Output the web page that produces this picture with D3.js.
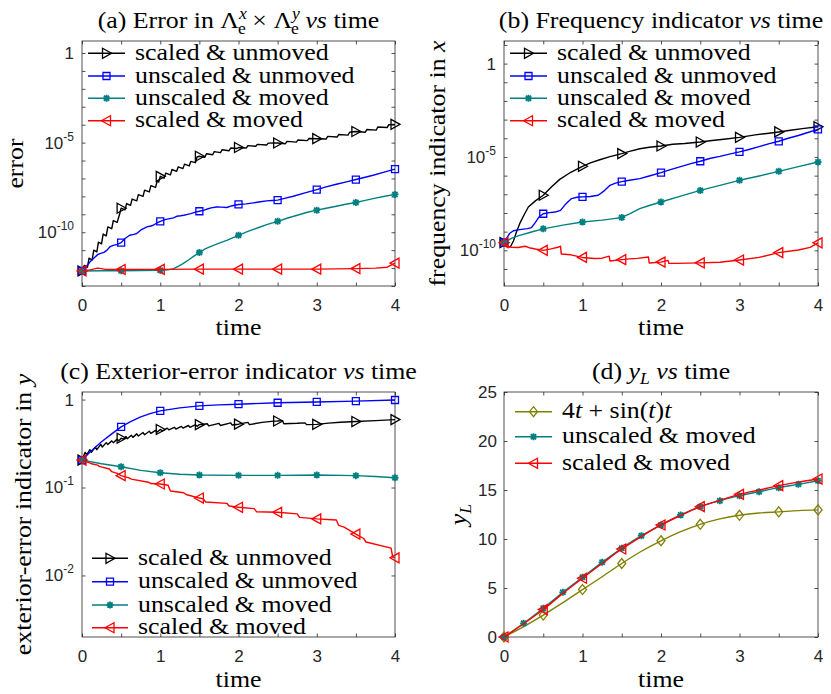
<!DOCTYPE html>
<html><head><meta charset="utf-8">
<script src="https://cdn.jsdelivr.net/npm/d3@7"></script>
<style>body{margin:0;background:#fff}</style>
</head><body>
<script>
// ---------------- DATA ----------------
const timeTicks = [0,0.5,1,1.5,2,2.5,3,3.5,4];
const timeLabels = [0,1,2,3,4];

// Panel (a): error, values stored as log10 exponents
const aSUt = [0,0.03,0.07,0.09,0.13,0.15,0.19,0.21,0.25,0.27,0.31,0.33,0.38,0.40,0.45,0.48,0.5,0.55,0.57,0.62,0.64,0.7,0.72,0.78,0.8,0.86,0.88,0.94,0.96,0.98,1.0,1.05,1.07,1.13,1.15,1.21,1.23,1.29,1.31,1.37,1.39,1.45,1.47,1.5,1.57,1.59,1.67,1.69,1.77,1.79,1.88,1.9,1.98,2.0,2.1,2.12,2.22,2.24,2.36,2.38,2.5,2.6,2.62,2.74,2.76,2.88,2.9,3.0,3.12,3.14,3.26,3.28,3.4,3.42,3.5,3.62,3.64,3.76,3.78,3.9,3.92,4.0];
const aSUexp = [-12.16,-11.85,-11.95,-11.45,-11.55,-11.0,-11.1,-10.55,-10.65,-10.1,-10.2,-9.7,-9.8,-9.35,-9.45,-9.0,-8.66,-8.75,-8.4,-8.5,-8.15,-8.25,-7.9,-8.0,-7.65,-7.75,-7.4,-7.5,-7.15,-7.2,-6.88,-6.98,-6.7,-6.8,-6.5,-6.6,-6.35,-6.45,-6.2,-6.3,-6.05,-6.12,-5.8,-5.76,-5.82,-5.62,-5.68,-5.5,-5.56,-5.4,-5.45,-5.3,-5.33,-5.27,-5.3,-5.17,-5.2,-5.1,-5.13,-5.03,-5.02,-5.06,-4.93,-4.97,-4.85,-4.89,-4.77,-4.78,-4.8,-4.65,-4.69,-4.55,-4.58,-4.42,-4.38,-4.42,-4.27,-4.3,-4.13,-4.16,-4.0,-3.98];
const aUUt = [0,0.05,0.1,0.15,0.2,0.23,0.28,0.32,0.36,0.4,0.45,0.5,0.55,0.61,0.66,0.7,0.76,0.83,0.88,0.91,0.96,1.0,1.06,1.12,1.17,1.21,1.26,1.3,1.35,1.39,1.45,1.5,1.55,1.59,1.65,1.72,1.78,1.85,1.92,2.0,2.1,2.19,2.28,2.36,2.43,2.5,2.6,2.7,2.85,3.0,3.12,3.25,3.38,3.5,3.62,3.72,3.85,4.0];
const aUUexp = [-12.16,-11.95,-11.66,-11.45,-11.25,-11.19,-11.12,-11.0,-10.8,-10.73,-10.68,-10.58,-10.35,-10.17,-10.12,-10.07,-9.85,-9.7,-9.65,-9.61,-9.48,-9.39,-9.3,-9.24,-9.2,-9.11,-9.08,-9.05,-9.0,-8.96,-8.88,-8.83,-8.78,-8.72,-8.64,-8.59,-8.6,-8.62,-8.52,-8.45,-8.42,-8.36,-8.3,-8.25,-8.23,-8.21,-8.1,-7.99,-7.8,-7.62,-7.47,-7.32,-7.19,-7.06,-6.93,-6.82,-6.66,-6.48];
const aUMt = [0,0.25,0.5,0.75,1.0,1.1,1.17,1.23,1.29,1.36,1.43,1.5,1.58,1.68,1.77,1.85,2.0,2.12,2.25,2.37,2.5,2.62,2.75,2.87,3.0,3.12,3.25,3.37,3.5,3.62,3.75,3.87,4.0];
const aUMexp = [-12.16,-12.15,-12.15,-12.14,-12.12,-12.1,-12.03,-11.9,-11.75,-11.55,-11.33,-11.13,-10.92,-10.73,-10.58,-10.45,-10.17,-9.95,-9.75,-9.56,-9.39,-9.22,-9.05,-8.9,-8.77,-8.66,-8.55,-8.44,-8.34,-8.22,-8.1,-7.99,-7.89];
const aSMt = [0,0.1,0.2,0.25,0.3,0.5,0.75,1.0,1.5,2.0,2.5,3.0,3.5,3.75,3.9,4.0];
const aSMexp = [-12.16,-12.1,-12.0,-12.03,-12.07,-12.08,-12.07,-12.07,-12.06,-12.06,-12.06,-12.06,-12.03,-12.0,-11.95,-11.72];

// Panel (b): frequency indicator in x, log10 exponents
const bSUt = [0,0.05,0.08,0.12,0.16,0.2,0.25,0.31,0.4,0.5,0.6,0.71,0.85,1.0,1.1,1.22,1.35,1.5,1.6,1.73,1.85,2.0,2.15,2.3,2.5,2.65,2.8,3.0,3.2,3.35,3.5,3.65,3.8,4.0];
const bSUexp = [-9.59,-9.8,-9.82,-9.5,-9.0,-8.57,-8.15,-7.68,-7.35,-7.05,-6.62,-6.2,-5.82,-5.5,-5.32,-5.15,-4.98,-4.82,-4.7,-4.56,-4.48,-4.41,-4.32,-4.28,-4.2,-4.12,-4.05,-3.95,-3.82,-3.74,-3.66,-3.57,-3.48,-3.38];
const bUUt = [0,0.07,0.12,0.2,0.3,0.35,0.4,0.45,0.5,0.58,0.65,0.72,0.78,0.86,0.93,1.0,1.1,1.2,1.28,1.35,1.42,1.5,1.6,1.73,1.85,2.0,2.12,2.25,2.38,2.5,2.62,2.75,2.87,3.0,3.12,3.25,3.37,3.5,3.62,3.75,3.87,4.0];
const bUUexp = [-9.59,-9.1,-8.95,-8.89,-8.84,-8.78,-8.5,-8.2,-8.04,-7.98,-7.95,-7.86,-7.55,-7.23,-7.16,-7.14,-7.12,-7.05,-6.8,-6.52,-6.4,-6.32,-6.25,-6.16,-6.02,-5.84,-5.68,-5.52,-5.36,-5.23,-5.08,-4.97,-4.85,-4.73,-4.6,-4.45,-4.3,-4.16,-4.0,-3.85,-3.69,-3.52];
const bUMt = [0,0.1,0.2,0.35,0.5,0.75,1.0,1.25,1.4,1.5,1.6,1.73,1.85,2.0,2.25,2.5,2.75,3.0,3.25,3.5,3.75,4.0];
const bUMexp = [-9.59,-9.35,-9.2,-9.02,-8.85,-8.65,-8.48,-8.38,-8.3,-8.24,-8.05,-7.77,-7.6,-7.41,-7.1,-6.79,-6.52,-6.25,-6.02,-5.77,-5.52,-5.27];
const bSMt = [0,0.05,0.1,0.18,0.27,0.32,0.4,0.5,0.6,0.7,0.72,0.73,0.85,1.0,1.15,1.25,1.34,1.35,1.5,1.6,1.7,1.84,1.85,2.0,2.09,2.1,2.2,2.5,2.75,3.0,3.25,3.5,3.75,3.9,4.0];
const bSMexp = [-9.59,-9.78,-9.84,-9.85,-9.78,-9.86,-9.93,-10.0,-9.92,-9.82,-9.78,-10.2,-10.24,-10.38,-10.44,-10.42,-10.31,-10.57,-10.5,-10.46,-10.43,-10.36,-10.68,-10.63,-10.54,-10.7,-10.7,-10.67,-10.64,-10.52,-10.38,-10.12,-9.98,-9.84,-9.6];

// Panel (c): exterior-error indicator in y, log10 exponents
const cSUt = [0,0.04,0.06,0.1,0.12,0.17,0.19,0.24,0.26,0.31,0.33,0.38,0.4,0.45,0.47,0.5,0.53,0.56,0.58,0.63,0.65,0.7,0.72,0.78,0.8,0.86,0.88,0.94,0.96,1.0,1.03,1.09,1.11,1.18,1.2,1.27,1.29,1.36,1.38,1.45,1.47,1.5,1.6,1.62,1.75,1.77,1.9,1.92,2.0,2.12,2.14,2.3,2.45,2.5,2.56,2.58,2.75,2.85,2.87,3.0,3.15,3.3,3.5,3.75,4.0];
const cSUexp = [-0.688,-0.6,-0.63,-0.57,-0.6,-0.54,-0.57,-0.51,-0.54,-0.49,-0.51,-0.47,-0.49,-0.45,-0.47,-0.44,-0.45,-0.42,-0.445,-0.405,-0.43,-0.39,-0.415,-0.375,-0.4,-0.36,-0.385,-0.35,-0.37,-0.34,-0.355,-0.325,-0.345,-0.315,-0.335,-0.305,-0.325,-0.295,-0.315,-0.285,-0.305,-0.285,-0.275,-0.3,-0.27,-0.295,-0.265,-0.29,-0.28,-0.26,-0.285,-0.26,-0.245,-0.244,-0.24,-0.275,-0.27,-0.265,-0.285,-0.282,-0.268,-0.258,-0.25,-0.24,-0.228];
const cUUt = [0,0.1,0.25,0.38,0.5,0.62,0.75,0.87,1.0,1.25,1.5,1.75,2.0,2.5,3.0,3.5,4.0];
const cUUexp = [-0.688,-0.6,-0.48,-0.39,-0.31,-0.25,-0.197,-0.16,-0.129,-0.095,-0.072,-0.06,-0.053,-0.036,-0.027,-0.018,-0.005];
const cUMt = [0,0.25,0.5,0.75,1.0,1.25,1.5,2.0,2.5,3.0,3.5,3.75,4.0];
const cUMexp = [-0.688,-0.73,-0.764,-0.805,-0.832,-0.85,-0.858,-0.862,-0.862,-0.858,-0.865,-0.875,-0.889];
const cSMt = [0,0.1,0.12,0.2,0.22,0.35,0.38,0.45,0.5,0.6,0.63,0.85,0.88,1.0,1.1,1.13,1.3,1.33,1.5,1.55,1.58,1.85,1.88,2.0,2.2,2.23,2.5,2.75,2.78,3.0,3.25,3.28,3.35,3.5,3.6,3.63,3.95,3.97,4.0];
const cSMexp = [-0.688,-0.72,-0.73,-0.745,-0.76,-0.79,-0.82,-0.84,-0.865,-0.89,-0.905,-0.94,-0.955,-0.96,-0.975,-1.04,-1.06,-1.08,-1.12,-1.13,-1.165,-1.18,-1.21,-1.225,-1.24,-1.275,-1.282,-1.3,-1.34,-1.357,-1.37,-1.43,-1.45,-1.53,-1.58,-1.62,-1.69,-1.79,-1.8];

// Panel (d): y_L
const dTime = [0,0.25,0.5,0.75,1,1.25,1.5,1.75,2,2.25,2.5,2.75,3,3.25,3.5,3.75,4];
const dRef = [0,1.06,2.24,3.5,4.84,6.15,7.5,8.75,9.82,10.75,11.5,12.05,12.42,12.65,12.77,12.9,12.97];
const dUM = [0,1.4,2.93,4.56,6.09,7.62,9.05,10.34,11.43,12.45,13.3,13.91,14.42,14.83,15.24,15.58,15.95];
const dSM = [0,1.35,2.8,4.45,6.0,7.5,8.98,10.25,11.43,12.4,13.3,13.95,14.56,15.0,15.44,15.8,16.12];
const dYTicks = [0,5,10,15,20,25];

// ---------------- DRAWING ----------------
const W = 831, H = 694;
const serif = 'Liberation Serif';
const sans = 'Liberation Sans';
const FS = 23.5, SX = 1.1;
const axisCol = '#262626';
const COL = {black:'#000000', blue:'#0000ff', teal:'#008080', red:'#ff0000', olive:'#808000'};
const svg = d3.select('body').append('svg').attr('width', W).attr('height', H);
svg.append('rect').attr('width', W).attr('height', H).attr('fill', '#fff');

function addRich(textSel, parts) {
  parts.forEach(p => {
    const ts = textSel.append('tspan').text(p.t);
    if (p.i) ts.attr('font-style', 'italic');
    if (p.fs) ts.attr('font-size', p.fs);
    if (p.dy) ts.attr('dy', p.dy);
    if (p.dx) ts.attr('dx', p.dx);
  });
  return textSel;
}

function marker(g, type, color, x, y) {
  let p;
  if (type === 'tr') p = 'M-4,-5L5,0L-4,5Z';
  else if (type === 'tl') p = 'M4,-5L-5,0L4,5Z';
  else if (type === 'sq') p = 'M-3.5,-3.5H3.5V3.5H-3.5Z';
  else if (type === 'di') p = 'M0,-5L4,0L0,5L-4,0Z';
  else if (type === 'st') p = 'M-3.5,0H3.5M0,-3.5V3.5M-2.6,-2.6L2.6,2.6M-2.6,2.6L2.6,-2.6';
  g.append('path').attr('d', p).attr('transform', `translate(${x},${y})`)
    .attr('fill', 'none').attr('stroke', color)
    .attr('stroke-width', type === 'st' ? 1.8 : 1.3);
}

// serif (LaTeX-like) text, widened horizontally to the reference's proportions
function serifText(g, x, y, rot) {
  return g.append('text').attr('font-family', serif).attr('font-size', FS).attr('fill', '#000')
    .attr('transform', `translate(${x},${y})${rot ? ' rotate(-90)' : ''} scale(${SX},1)`);
}

function panel(cfg) {
  const g = svg.append('g');
  const x = d3.scaleLinear().domain([0, 4]).range([cfg.left, cfg.right]);
  const y = cfg.log
    ? d3.scaleLog().domain(cfg.ydom).range([cfg.bottom, cfg.top])
    : d3.scaleLinear().domain(cfg.ydom).range([cfg.bottom, cfg.top]);

  const styleAxis = a => {
    a.select('.domain').remove();
    a.selectAll('line').attr('stroke', axisCol).attr('stroke-width', 0.8);
    a.selectAll('text').attr('fill', axisCol).attr('font-family', sans).attr('font-size', 17);
  };
  g.append('g').attr('transform', `translate(0,${cfg.bottom})`)
    .call(d3.axisBottom(x).tickValues(timeTicks).tickSize(-3.5).tickPadding(12.5)
      .tickFormat(d => timeLabels.includes(d) ? d : '')).call(styleAxis);
  g.append('g').attr('transform', `translate(0,${cfg.top})`)
    .call(d3.axisTop(x).tickValues(timeTicks).tickSize(-3.5).tickFormat('')).call(styleAxis);
  const yl = d3.axisLeft(y).tickValues(cfg.yticks).tickSize(-3.5);
  if (cfg.log) yl.tickFormat(''); else yl.tickPadding(7).tickFormat(d => d);
  g.append('g').attr('transform', `translate(${cfg.left},0)`).call(yl).call(styleAxis);
  g.append('g').attr('transform', `translate(${cfg.right},0)`)
    .call(d3.axisRight(y).tickValues(cfg.yticks).tickSize(-3.5).tickFormat('')).call(styleAxis);

  if (cfg.log) {
    cfg.ylabels.forEach(v => {
      const e = Math.round(Math.log10(v));
      const t = g.append('text').attr('x', cfg.left - 8).attr('y', y(v)).attr('dy', '0.35em')
        .attr('text-anchor', 'end').attr('fill', axisCol).attr('font-family', sans).attr('font-size', 17);
      if (e === 0) t.text('1');
      else addRich(t, [{t: '10'}, {t: String(e), fs: 12, dy: -8}]);
    });
  }

  g.append('rect').attr('x', cfg.left).attr('y', cfg.top)
    .attr('width', cfg.right - cfg.left).attr('height', cfg.bottom - cfg.top)
    .attr('fill', 'none').attr('stroke', axisCol).attr('stroke-width', 0.8);

  const line = d3.line().x(d => x(d[0])).y(d => y(d[1]));
  if (cfg.curve) line.curve(d3.curveMonotoneX);
  cfg.series.forEach(s => {
    const pts = s.t.map((t, i) => [t, s.v[i]]);
    g.append('path').datum(pts).attr('d', line).attr('fill', 'none')
      .attr('stroke', s.color).attr('stroke-width', 1.4).attr('stroke-linejoin', 'round');
    pts.filter(p => Math.abs(p[0] / s.mstep - Math.round(p[0] / s.mstep)) < 1e-9)
      .forEach(p => marker(g, s.marker, s.color, x(p[0]), y(p[1])));
  });

  cfg.series.slice().sort((a, b) => a.lorder - b.lorder).forEach((s, i) => {
    const ly = cfg.legY[i];
    g.append('line').attr('x1', cfg.legX0).attr('x2', cfg.legX1).attr('y1', ly).attr('y2', ly)
      .attr('stroke', s.color).attr('stroke-width', 1.4);
    marker(g, s.marker, s.color, (cfg.legX0 + cfg.legX1) / 2, ly);
    addRich(serifText(g, cfg.legX1 + 10, ly + 6.7), s.label);
  });

  addRich(serifText(g, (cfg.left + cfg.right) / 2, cfg.titleY).attr('text-anchor', 'middle'), cfg.title);
  serifText(g, (cfg.left + cfg.right) / 2, cfg.xlabY).attr('text-anchor', 'middle').text('time');
  addRich(serifText(g, cfg.ylabX, (cfg.top + cfg.bottom) / 2, true).attr('text-anchor', 'middle'), cfg.ylab);
}

const lSU = [{t: 'scaled & unmoved'}];
const lUU = [{t: 'unscaled & unmoved'}];
const lUM = [{t: 'unscaled & moved'}];
const lSM = [{t: 'scaled & moved'}];
const toVal = arr => arr.map(e => Math.pow(10, e));

panel({
  left: 82, right: 395, top: 41, bottom: 286, log: true,
  ydom: [1e-13, Math.pow(10, 0.67)],
  yticks: d3.range(-13, 1).map(e => Math.pow(10, e)), ylabels: [1, 1e-5, 1e-10],
  series: [
    {t: aSUt, v: toVal(aSUexp), color: COL.black, marker: 'tr', mstep: 0.5, label: lSU, lorder: 0},
    {t: aUUt, v: toVal(aUUexp), color: COL.blue, marker: 'sq', mstep: 0.5, label: lUU, lorder: 1},
    {t: aUMt, v: toVal(aUMexp), color: COL.teal, marker: 'st', mstep: 0.5, label: lUM, lorder: 2},
    {t: aSMt, v: toVal(aSMexp), color: COL.red, marker: 'tl', mstep: 0.5, label: lSM, lorder: 3}
  ],
  legX0: 88, legX1: 125, legY: [53.3, 76, 98.3, 120.7],
  titleY: 28.3, xlabY: 335, ylabX: 23,
  title: [{t: '(a) Error in Λ'}, {t: 'x', i: 1, fs: 16, dy: -9}, {t: 'e', fs: 16, dx: -8, dy: 15},
          {t: ' × Λ', dy: -6}, {t: 'y', i: 1, fs: 16, dy: -9}, {t: 'e', fs: 16, dx: -8, dy: 15},
          {t: ' ', dy: -6}, {t: 'vs', i: 1}, {t: ' time'}],
  ylab: [{t: 'error'}]
});

panel({
  left: 504, right: 818, top: 41, bottom: 286, log: true,
  ydom: [Math.pow(10, -11.91), Math.pow(10, 1.21)],
  yticks: d3.range(-11, 2).map(e => Math.pow(10, e)), ylabels: [1, 1e-5, 1e-10],
  series: [
    {t: bSUt, v: toVal(bSUexp), color: COL.black, marker: 'tr', mstep: 0.5, label: lSU, lorder: 0},
    {t: bUUt, v: toVal(bUUexp), color: COL.blue, marker: 'sq', mstep: 0.5, label: lUU, lorder: 1},
    {t: bUMt, v: toVal(bUMexp), color: COL.teal, marker: 'st', mstep: 0.5, label: lUM, lorder: 2},
    {t: bSMt, v: toVal(bSMexp), color: COL.red, marker: 'tl', mstep: 0.5, label: lSM, lorder: 3}
  ],
  legX0: 510, legX1: 547, legY: [53.3, 76, 98.3, 120.7],
  titleY: 28.3, xlabY: 335, ylabX: 445,
  title: [{t: '(b) Frequency indicator '}, {t: 'vs', i: 1}, {t: ' time'}],
  ylab: [{t: 'frequency indicator in '}, {t: 'x', i: 1}]
});

panel({
  left: 82, right: 395, top: 392, bottom: 637, log: true,
  ydom: [Math.pow(10, -2.7), Math.pow(10, 0.086)],
  yticks: [1e-2, 1e-1, 1], ylabels: [1, 1e-1, 1e-2],
  series: [
    {t: cSUt, v: toVal(cSUexp), color: COL.black, marker: 'tr', mstep: 0.5, label: lSU, lorder: 0},
    {t: cUUt, v: toVal(cUUexp), color: COL.blue, marker: 'sq', mstep: 0.5, label: lUU, lorder: 1},
    {t: cUMt, v: toVal(cUMexp), color: COL.teal, marker: 'st', mstep: 0.5, label: lUM, lorder: 2},
    {t: cSMt, v: toVal(cSMexp), color: COL.red, marker: 'tl', mstep: 0.5, label: lSM, lorder: 3}
  ],
  legX0: 92, legX1: 128, legY: [558.3, 581.7, 605, 627.7],
  titleY: 379, xlabY: 687, ylabX: 31,
  title: [{t: '(c) Exterior-error indicator '}, {t: 'vs', i: 1}, {t: ' time'}],
  ylab: [{t: 'exterior-error indicator in '}, {t: 'y', i: 1}]
});

panel({
  left: 504, right: 818, top: 392, bottom: 637, log: false, curve: true,
  ydom: [0, 25], yticks: dYTicks,
  series: [
    {t: dTime, v: dRef, color: COL.olive, marker: 'di', mstep: 0.5,
     label: [{t: '4'}, {t: 't', i: 1}, {t: ' + sin('}, {t: 't', i: 1}, {t: ')'}, {t: 't', i: 1}], lorder: 0},
    {t: dTime, v: dUM, color: COL.teal, marker: 'st', mstep: 0.25, label: lUM, lorder: 1},
    {t: dTime, v: dSM, color: COL.red, marker: 'tl', mstep: 0.5, label: lSM, lorder: 2}
  ],
  legX0: 515, legX1: 552, legY: [411.7, 436.7, 463.3],
  titleY: 379, xlabY: 687, ylabX: 466,
  title: [{t: '(d) '}, {t: 'y', i: 1}, {t: 'L', i: 1, fs: 16, dy: 5}, {t: ' ', dy: -5}, {t: 'vs', i: 1}, {t: ' time'}],
  ylab: [{t: 'y', i: 1}, {t: 'L', i: 1, fs: 16, dy: 5}]
});
</script>
</body></html>
